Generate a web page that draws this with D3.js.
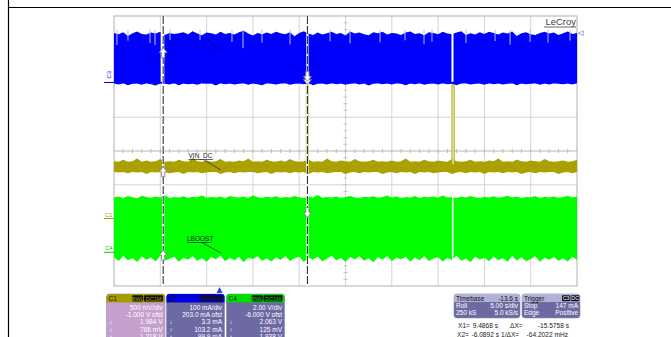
<!DOCTYPE html>
<html>
<head>
<meta charset="utf-8">
<script src="https://cdn.jsdelivr.net/npm/d3@7"></script>
<style>
  body { margin: 0; background: #fff; }
  svg { display: block; font-family: "Liberation Sans", Arial, sans-serif; }
</style>
</head>
<body>
<div id="container"></div>
<script>
// ---- data (read off the scope shot) ----
// envelope samples, one every 0.5 s starting at the left edge of the screen
const timeStart = -11.4
const timeStep = 0.5

// C3 (mA)
const blueTop = [147,143,149,138,146,151,144,142,148,145,150,141,147,144,146,149,143,152,145,140,
  148,146,142,150,144,147,142,149,153,145,139,147,143,148,144,150,146,143,149,137,
  147,152,145,141,148,142,146,150,144,147,139,151,145,148,143,140,149,146,150,142,
  147,145,141,148,151,144,146,140,149,147,143,150,145,143,148,152,141,146,142,149,
  144,150,147,142,148,145,151,138,146,149,143,141,147,150,145,148,141,146,151,144,147]
const blueBot = [-3,-6,-2,-8,-4,-3,-7,-2,-5,-9,-3,-4,-6,-2,-8,-3,-5,-4,-7,-2,
  -4,-3,-9,-2,-5,-3,-6,-4,-2,-7,-3,-5,-8,-2,-4,-6,-3,-2,-7,-4,
  -3,-5,-2,-8,-4,-3,-6,-2,-5,-3,-7,-4,-2,-6,-3,-9,-4,-2,-5,-3,
  -6,-2,-4,-8,-3,-5,-2,-7,-4,-3,-6,-2,-5,-4,-8,-3,-2,-6,-4,-3,
  -7,-2,-5,-3,-6,-4,-2,-8,-3,-5,-4,-2,-7,-3,-6,-2,-4,-5,-3,-6,-2]
// short drop-outs seen on the top edge: time (s) and lowest value (mA)
const blueDipTimes = [-11.08, -9.89, -7.51, -6.97, -5.35, -2.11, 1.34, 2.53, 4.58, 7.61, 11.93, 14.09,
  17.33, 20.03, 22.08, 22.94, 26.61, 29.75, 31.37, 33.53, 35.47, 37.85]
const blueDipValues = [111, 124, 117, 111, 126, 126, 120, 102, 118, 113, 122, 116,
  119, 125, 114, 121, 117, 123, 112, 120, 118, 124]
const blueGaps = [-6.25, 25.15]

// C1 (V)
const yellowTop = [0.85,0.84,0.87,0.84,0.85,0.89,0.84,0.86,0.84,0.85,0.88,0.84,0.85,0.84,0.87,0.85,0.84,0.90,0.85,0.84,
  0.86,0.84,0.85,0.88,0.84,0.85,0.84,0.86,0.85,0.89,0.84,0.85,0.84,0.87,0.85,0.84,0.86,0.84,0.88,0.85,
  0.84,0.85,0.87,0.84,0.85,0.84,0.89,0.85,0.84,0.86,0.85,0.84,0.88,0.85,0.84,0.85,0.87,0.84,0.85,0.84,
  0.86,0.84,0.85,0.89,0.84,0.85,0.84,0.87,0.85,0.84,0.86,0.85,0.84,0.88,0.85,0.84,0.85,0.87,0.84,0.85,
  0.84,0.86,0.85,0.89,0.84,0.85,0.84,0.87,0.85,0.84,0.86,0.85,0.84,0.88,0.85,0.84,0.85,0.86,0.84,0.85,0.87]
const yellowBot = [0.69,0.68,0.69,0.67,0.69,0.68,0.69,0.66,0.69,0.68,0.69,0.69,0.67,0.68,0.69,0.66,0.69,0.68,0.69,0.67,
  0.68,0.69,0.69,0.66,0.68,0.69,0.67,0.69,0.68,0.69,0.69,0.67,0.68,0.69,0.66,0.69,0.68,0.69,0.67,0.69,
  0.68,0.69,0.66,0.69,0.68,0.69,0.67,0.68,0.69,0.69,0.66,0.68,0.69,0.67,0.69,0.68,0.69,0.69,0.66,0.68,
  0.69,0.67,0.69,0.68,0.69,0.66,0.69,0.68,0.69,0.67,0.68,0.69,0.69,0.66,0.68,0.69,0.67,0.69,0.68,0.69,
  0.66,0.69,0.68,0.69,0.67,0.69,0.68,0.69,0.66,0.68,0.69,0.67,0.69,0.68,0.69,0.69,0.66,0.68,0.69,0.67,0.69]
const yellowPulseTimes = [9.47, 25.2]
const yellowPulsePeaks = [1.984, 1.98]

// C4 (V)
const greenTop = [3.24,3.30,3.22,3.33,3.26,3.20,3.35,3.27,3.23,3.31,3.25,3.38,3.22,3.28,3.24,3.32,3.21,3.29,3.26,3.36,
  3.23,3.28,3.25,3.31,3.20,3.34,3.27,3.24,3.30,3.22,3.37,3.26,3.23,3.29,3.25,3.32,3.21,3.28,3.24,3.33,
  3.26,3.22,3.30,3.25,3.39,3.23,3.28,3.24,3.31,3.22,3.27,3.34,3.25,3.21,3.29,3.26,3.32,3.23,3.28,3.36,
  3.24,3.30,3.22,3.27,3.25,3.33,3.21,3.29,3.26,3.31,3.23,3.37,3.25,3.28,3.22,3.30,3.24,3.34,3.26,3.21,
  3.29,3.25,3.32,3.23,3.27,3.35,3.24,3.30,3.22,3.28,3.26,3.33,3.21,3.29,3.25,3.31,3.23,3.27,3.34,3.24,3.30]
const greenBot = [-0.30,-0.52,-0.22,-0.47,-0.35,-0.58,-0.25,-0.44,-0.31,-0.55,-0.20,-0.49,-0.38,-0.27,-0.56,-0.33,-0.45,-0.24,-0.51,-0.36,
  -0.57,-0.28,-0.42,-0.21,-0.53,-0.34,-0.47,-0.26,-0.59,-0.32,-0.40,-0.23,-0.50,-0.37,-0.55,-0.29,-0.46,-0.22,-0.52,-0.35,
  -0.27,-0.58,-0.31,-0.44,-0.25,-0.53,-0.39,-0.21,-0.48,-0.34,-0.56,-0.28,-0.43,-0.24,-0.51,-0.36,-0.59,-0.30,-0.45,-0.22,
  -0.54,-0.33,-0.41,-0.26,-0.57,-0.31,-0.48,-0.23,-0.52,-0.37,-0.29,-0.55,-0.34,-0.46,-0.21,-0.50,-0.38,-0.58,-0.27,-0.43,
  -0.32,-0.54,-0.25,-0.47,-0.36,-0.56,-0.22,-0.49,-0.30,-0.53,-0.40,-0.24,-0.57,-0.33,-0.45,-0.28,-0.51,-0.35,-0.55,-0.26,-0.44]
const greenGaps = [25.15]

// channel settings, order C1, C3, C4
const chNames = ['C1', 'C3', 'C4']
const chPerDiv = [0.5, 100, 2]
const chOffset = [-1.0, 203.0, -6.0]
const chCoupling = [['BWL', 'DC1M'], ['BWL', 'DC'], ['BWL', 'DC1M']]
const chRows = [
  ['500 mV/div', '-1.000 V ofst', '1.984 V', '766 mV', '1.218 V'],
  ['100 mA/div', '203.0 mA ofst', '3.3 mA', '103.2 mA', '99.9 mA'],
  ['2.00 V/div', '-6.000 V ofst', '2.063 V', '125 mV', '1.938 V']
]

// cursors X1, X2 (s) and the channel readings at them
const cursorTimes = [9.4868, -6.0892]
const cursorReadC1 = [1.984, 0.766]
const cursorReadC3 = [3.3, 103.2]
const cursorReadC4 = [2.063, 0.125]

const timebaseRows = [['Timebase', '-13.6 s'], ['Roll', '5.00 s/div'], ['250 kS', '5.0 kS/s']]
const triggerRows = [['Trigger', ''], ['Stop', '147 mA'], ['Edge', 'Positive']]
const triggerLevel = 147
const cursorText = [['X1=', '9.4868 s', '\u0394X=', '-15.5758 s'], ['X2=', '-6.0892 s', '1/\u0394X=', '-64.2022 mHz']]

// ---- drawing ----
const w = 671
const h = 337
const chColours = ['#aaa000', '#0000ff', '#00ff00']
const hdrColours = ['#a69c00', '#0000dd', '#00dd00']

const svg = d3.select('#container').append('svg')
  .attr('width', w).attr('height', h)

const x = d3.scaleLinear().domain([timeStart, timeStart + 50]).range([114, 577])
const xDiv = d3.scaleLinear().domain([0, 10]).range([114, 577])
const yDiv = d3.scaleLinear().domain([-4, 4]).range([286, 16])
const yCh = (i, v) => yDiv((v + chOffset[i]) / chPerDiv[i])
const tAt = (i) => timeStart + i * timeStep

// page frame lines
svg.append('line').attr('x1', 8).attr('x2', w).attr('y1', 7.5).attr('y2', 7.5).attr('stroke', '#000').attr('stroke-width', 1.2)
svg.append('line').attr('x1', 8.5).attr('x2', 8.5).attr('y1', 0).attr('y2', h).attr('stroke', '#000').attr('stroke-width', 1.2)

// grid
const grid = svg.append('g')
grid.selectAll('.gv').data(d3.range(1, 10)).enter().append('line')
  .attr('x1', d => xDiv(d)).attr('x2', d => xDiv(d)).attr('y1', yDiv(4)).attr('y2', yDiv(-4))
  .attr('stroke', '#d4d4d4')
grid.selectAll('.gh').data(d3.range(-3, 4)).enter().append('line')
  .attr('x1', xDiv(0)).attr('x2', xDiv(10)).attr('y1', d => yDiv(d)).attr('y2', d => yDiv(d))
  .attr('stroke', d => d === 0 ? '#b8b8b8' : '#d4d4d4')
grid.selectAll('.th').data(d3.range(1, 50)).enter().append('line')
  .attr('x1', d => xDiv(d / 5)).attr('x2', d => xDiv(d / 5)).attr('y1', yDiv(0) - 2).attr('y2', yDiv(0) + 2)
  .attr('stroke', '#b8b8b8')
grid.selectAll('.tv').data(d3.range(1, 40)).enter().append('line')
  .attr('y1', d => yDiv(d / 5 - 4)).attr('y2', d => yDiv(d / 5 - 4)).attr('x1', xDiv(5) - 2).attr('x2', xDiv(5) + 2)
  .attr('stroke', '#c4c4c4')
grid.append('rect').attr('x', xDiv(0)).attr('y', yDiv(4)).attr('width', xDiv(10) - xDiv(0)).attr('height', yDiv(-4) - yDiv(4))
  .attr('fill', 'none').attr('stroke', '#b0b0b0')

// traces
const band = (ch, top, bot) => d3.area()
  .x((d, i) => x(tAt(i)))
  .y0((d, i) => yCh(ch, bot[i]))
  .y1((d, i) => yCh(ch, top[i]))(top)

svg.append('path').attr('d', band(1, blueTop, blueBot)).attr('fill', chColours[1])
svg.selectAll('.bdip').data(blueDipTimes).enter().append('line')
  .attr('x1', d => x(d)).attr('x2', d => x(d))
  .attr('y1', yCh(1, 156)).attr('y2', (d, i) => yCh(1, blueDipValues[i]))
  .attr('stroke', '#b8b8ff').attr('stroke-width', 1)
svg.selectAll('.bgap').data(blueGaps).enter().append('rect')
  .attr('x', d => x(d) - 1).attr('width', x(0.22) - x(0))
  .attr('y', yCh(1, 160)).attr('height', yCh(1, 2) - yCh(1, 160))
  .attr('fill', '#fff')

svg.append('path').attr('d', band(0, yellowTop, yellowBot)).attr('fill', chColours[0])
svg.selectAll('.pulse').data(yellowPulseTimes).enter().append('rect')
  .attr('x', d => x(d) - 1).attr('width', x(0.25) - x(0))
  .attr('y', (d, i) => yCh(0, yellowPulsePeaks[i])).attr('height', (d, i) => yCh(0, 0.8) - yCh(0, yellowPulsePeaks[i]))
  .attr('fill', '#e8e5a4').attr('stroke', chColours[0]).attr('stroke-width', 0.8)

svg.append('path').attr('d', band(2, greenTop, greenBot)).attr('fill', chColours[2])
svg.selectAll('.ggap').data(greenGaps).enter().append('rect')
  .attr('x', d => x(d) - 0.5).attr('width', 1.5)
  .attr('y', yCh(2, 3.45)).attr('height', yCh(2, -0.6) - yCh(2, 3.45))
  .attr('fill', '#fff')

// cursors
cursorTimes.forEach(t => {
  svg.append('line').attr('x1', x(t)).attr('x2', x(t)).attr('y1', yDiv(4)).attr('y2', yDiv(-4))
    .attr('stroke', '#fff').attr('stroke-width', 2.2)
  svg.append('line').attr('x1', x(t)).attr('x2', x(t)).attr('y1', yDiv(4)).attr('y2', yDiv(-4))
    .attr('stroke', '#222').attr('stroke-width', 1).attr('stroke-dasharray', '8,2')
})

// cursor arrows: X1 points down, X2 points up
const arrowUp = 'M0,0 L4,5 L1.6,5 L1.6,10 L-1.6,10 L-1.6,5 L-4,5 Z'
const arrows = []
cursorTimes.forEach((t, k) => {
  arrows.push({ t: t, y: yCh(0, cursorReadC1[k]), up: k === 1 })
  arrows.push({ t: t, y: yCh(1, cursorReadC3[k]), up: k === 1 })
  arrows.push({ t: t, y: yCh(2, cursorReadC4[k]), up: k === 1 })
})
svg.selectAll('.arrow').data(arrows).enter().append('path')
  .attr('d', arrowUp)
  .attr('transform', d => 'translate(' + x(d.t) + ',' + d.y + ')' + (d.up ? '' : ' scale(1,-1)'))
  .attr('fill', '#fff').attr('stroke', '#777').attr('stroke-width', 0.8)

// trace annotations
const note = (label, tx, ty, ex, ey) => {
  const g = svg.append('g')
  g.append('text').attr('x', tx).attr('y', ty).text(label)
    .attr('font-size', 6.5).attr('fill', '#222')
  const bw = label.length * 4.1
  g.append('line').attr('x1', tx).attr('x2', tx + bw).attr('y1', ty + 1.5).attr('y2', ty + 1.5).attr('stroke', '#222').attr('stroke-width', 0.7)
  g.append('line').attr('x1', tx + bw * 0.6).attr('x2', ex).attr('y1', ty + 1.5).attr('y2', ey).attr('stroke', '#222').attr('stroke-width', 0.7)
}
note('VIN_DC', 188.5, 158, 221, 170)
note('LBOOST', 187, 241, 221, 253)
svg.append('line').attr('x1', 206).attr('x2', 220).attr('y1', 37).attr('y2', 51).attr('stroke', '#000044').attr('stroke-width', 0.8)

// channel ground markers on the left
chNames.forEach((name, i) => {
  const y0 = yCh(i, 0)
  svg.append('line').attr('x1', 104).attr('x2', 114).attr('y1', y0).attr('y2', y0)
    .attr('stroke', i === 2 ? '#00cc00' : chColours[i]).attr('stroke-width', 1)
  if (i === 1) {
    svg.append('text').attr('transform', 'translate(111,' + (y0 - 4) + ') rotate(-90)')
      .attr('font-size', 6).attr('fill', chColours[i]).text(name)
  } else {
    svg.append('text').attr('x', 105).attr('y', y0 - 2).attr('font-size', 6)
      .attr('fill', i === 2 ? '#00bb00' : chColours[i]).text(name)
  }
})

// trigger level and trigger position markers
svg.append('text').attr('x', 577.5).attr('y', yCh(1, triggerLevel) + 2.3).attr('font-size', 6.5)
  .attr('fill', '#0000ff').text('\u25C1')
svg.append('path').attr('d', 'M-3,3 L0,-3 L3,3 Z').attr('transform', 'translate(' + x(0) + ',290)').attr('fill', '#2040ff')

// brand
svg.append('text').attr('x', 576).attr('y', 25).attr('text-anchor', 'end').attr('font-size', 9.5).attr('fill', '#444').text('LeCroy')
svg.append('line').attr('x1', 544).attr('x2', 576).attr('y1', 27).attr('y2', 27).attr('stroke', '#444').attr('stroke-width', 0.8)

// channel panels
const panelX = [106.5, 166.5, 226.5]
const panelW = [58.5, 58, 58]
const bodyColours = ['#c6a0cd', '#6c69a3', '#6c69a3']
chNames.forEach((name, i) => {
  const g = svg.append('g').attr('transform', 'translate(' + panelX[i] + ',294)')
  g.append('rect').attr('width', panelW[i]).attr('height', 60).attr('rx', 3).attr('fill', bodyColours[i]).attr('stroke', '#8e8ab8').attr('stroke-width', 0.6)
  g.append('path').attr('d', 'M0,8.5 V3 Q0,0 3,0 H' + (panelW[i] - 3) + ' Q' + panelW[i] + ',0 ' + panelW[i] + ',3 V8.5 Z').attr('fill', hdrColours[i])
  g.append('text').attr('x', 2).attr('y', 7).attr('font-size', 6.5).attr('fill', '#111').text(name)
  const right = panelW[i] - 2
  const bw = [[11, 19], [11, 11], [11, 19]][i]
  g.append('rect').attr('x', right - bw[1]).attr('y', 1.2).attr('width', bw[1]).attr('height', 6.3).attr('rx', 1).attr('fill', '#111')
  g.append('text').attr('x', right - bw[1] / 2).attr('y', 6.5).attr('text-anchor', 'middle').attr('font-size', 5.5).attr('fill', hdrColours[i]).text(chCoupling[i][1])
  g.append('rect').attr('x', right - bw[1] - bw[0] - 0.8).attr('y', 1.2).attr('width', bw[0]).attr('height', 6.3).attr('rx', 1).attr('fill', '#111')
  g.append('text').attr('x', right - bw[1] - bw[0] / 2 - 0.8).attr('y', 6.5).attr('text-anchor', 'middle').attr('font-size', 5.5).attr('fill', hdrColours[i]).text(chCoupling[i][0])
  chRows[i].forEach((r, k) => {
    g.append('text').attr('x', panelW[i] - 2.5).attr('y', 16 + k * 7.2).attr('text-anchor', 'end')
      .attr('font-size', 6.5).attr('fill', '#fff').text(r)
  })
  ;['\u2193', '\u2191', '\u2195'].forEach((a, k) => {
    g.append('text').attr('x', 3).attr('y', 30.4 + k * 7.2).attr('font-size', 6).attr('fill', '#fff').text(a)
  })
})

// timebase and trigger panels
const infoPanel = (px, pw, rows, boxes) => {
  const g = svg.append('g').attr('transform', 'translate(' + px + ',294)')
  g.append('rect').attr('width', pw).attr('height', 24).attr('rx', 3).attr('fill', '#6c69a3').attr('stroke', '#8e8ab8').attr('stroke-width', 0.6)
  g.append('path').attr('d', 'M0,8 V3 Q0,0 3,0 H' + (pw - 3) + ' Q' + pw + ',0 ' + pw + ',3 V8 Z').attr('fill', '#b4b1d8')
  rows.forEach((r, k) => {
    const col = k === 0 ? '#111' : '#fff'
    g.append('text').attr('x', 2).attr('y', 6.8 + k * 7).attr('font-size', 6.5).attr('fill', col).text(r[0])
    g.append('text').attr('x', pw - 2).attr('y', 6.8 + k * 7).attr('text-anchor', 'end').attr('font-size', 6.5).attr('fill', col).text(r[1])
  })
  if (boxes) {
    boxes.forEach((b, k) => {
      const bx = pw - 18 + k * 9
      g.append('rect').attr('x', bx).attr('y', 1.2).attr('width', 8.4).attr('height', 6).attr('rx', 1).attr('fill', '#111')
      g.append('text').attr('x', bx + 4.2).attr('y', 6.2).attr('text-anchor', 'middle').attr('font-size', 5.3).attr('fill', '#fff').text(b)
    })
  }
}
infoPanel(454, 66, timebaseRows, null)
infoPanel(522, 58, triggerRows, ['C3', 'DC'])

// cursor readout
const colX = [[458, 498, 510, 569], [457, 499, 501, 568]]
cursorText.forEach((row, k) => {
  const yy = 328 + k * 8.6
  row.forEach((s, j) => {
    svg.append('text').attr('x', colX[k][j])
      .attr('y', yy).attr('font-size', 6.6).attr('fill', '#222')
      .attr('text-anchor', j === 0 || j === 2 ? 'start' : 'end').text(s)
  })
})
</script>
</body>
</html>
